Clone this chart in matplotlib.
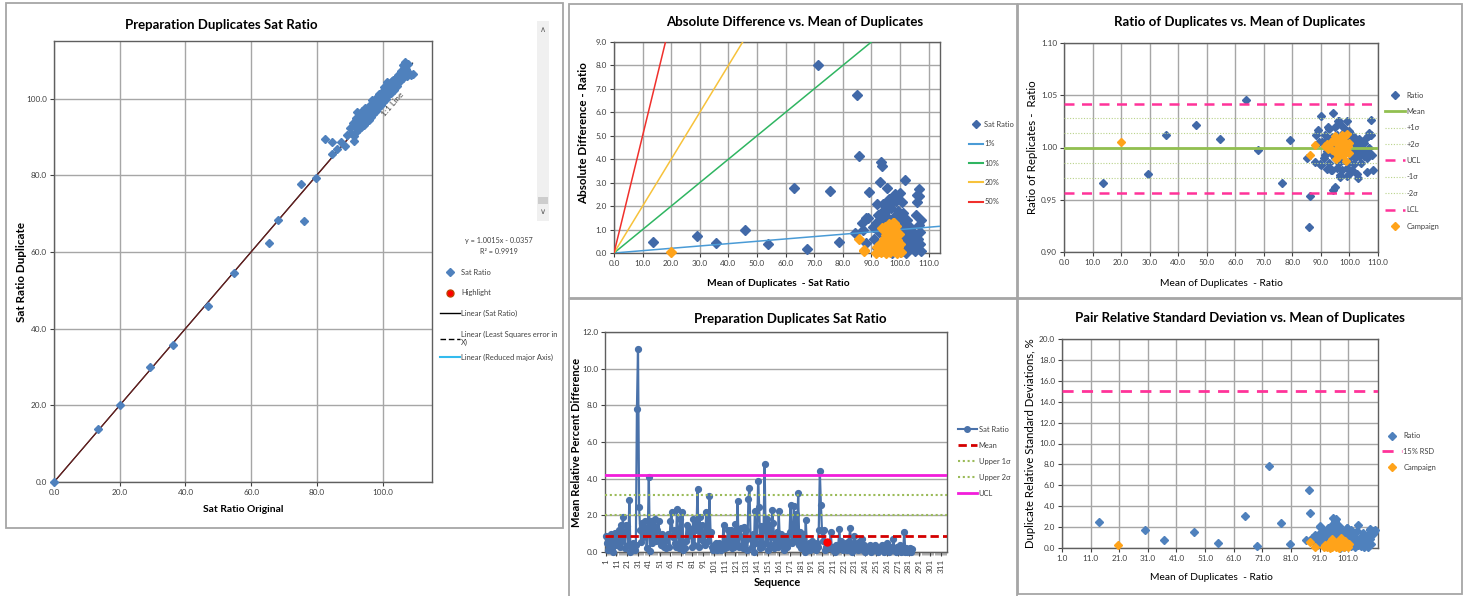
import numpy as np
import matplotlib
matplotlib.use("Agg")
import matplotlib.pyplot as plt
from matplotlib import font_manager
from matplotlib.lines import Line2D
from matplotlib.patches import Rectangle
from matplotlib.ticker import FormatStrFormatter

# ======================= DATA =======================
# Panel 1: original vs duplicate sat ratio
p1_pairs = [
    (0.0, 0.0), (13.5, 13.9), (20.1, 20.0), (29.1, 29.9), (36.2, 35.8), (46.8, 45.9),
    (54.8, 54.4), (65.3, 62.4), (68.2, 68.4), (75.0, 77.8), (76.1, 68.1), (79.7, 79.2),
    (82.5, 89.5), (84.5, 88.6), (84.7, 85.6), (86.0, 86.8), (87.2, 88.6), (88.5, 87.7),
    (89.0, 90.6), (91.2, 88.8),
    (90.0, 92.2), (90.5, 91.0), (91.0, 93.5), (91.2, 90.2), (91.5, 92.8), (91.8, 95.0),
    (92.0, 91.3), (92.3, 96.5), (92.5, 93.8), (92.8, 92.0), (93.0, 95.6), (93.2, 94.0),
    (93.5, 92.5), (93.7, 96.8), (94.0, 95.0), (94.2, 93.2), (94.5, 97.5), (94.7, 95.5),
    (95.0, 94.0), (95.2, 97.0), (95.5, 95.9), (95.7, 94.5), (96.0, 98.4), (96.2, 96.8),
    (96.5, 95.3), (96.7, 99.6), (97.0, 97.6), (97.2, 96.0), (97.5, 99.0), (97.7, 98.3),
    (98.0, 96.8), (98.2, 100.5), (98.5, 99.0), (98.7, 97.5), (99.0, 101.3), (99.2, 100.0),
    (99.5, 98.3), (99.7, 101.8), (100.0, 100.6), (100.2, 99.2), (100.5, 103.0), (100.7, 101.4),
    (101.0, 100.0), (101.2, 104.3), (101.5, 102.3), (101.7, 100.8), (102.0, 103.6), (102.2, 102.5),
    (102.5, 101.4), (102.7, 104.6), (103.0, 103.8), (103.3, 102.2), (103.6, 105.0), (104.0, 104.5),
    (104.3, 103.3), (104.6, 106.2), (105.0, 105.8), (105.3, 104.6), (105.6, 107.3), (106.0, 106.5),
    (106.3, 105.3), (106.6, 108.4), (107.0, 107.6), (107.3, 106.0), (107.7, 109.0), (108.0, 106.6),
    (108.5, 106.2), (109.1, 106.3), (106.7, 109.4), (106.2, 108.8),
    (93.0, 93.0), (94.5, 94.8), (96.0, 96.3), (97.5, 97.6), (99.0, 99.4), (100.5, 100.9),
    (95.0, 96.5), (98.0, 98.9), (101.0, 101.9), (103.0, 104.9), (92.0, 94.3), (96.5, 97.9),
]
fit_slope = 1.0015
fit_intercept = -0.0357
fit_r2 = 0.9919

# Panel 2: absolute difference vs mean of duplicates
p2_pairs = [
    (13.5, 0.47), (29.1, 0.74), (35.6, 0.43), (45.8, 1.00), (54.0, 0.39), (63.1, 2.78),
    (67.5, 0.16), (71.4, 8.03), (75.7, 2.64), (78.6, 0.49), (84.2, 0.86), (85.1, 6.76),
    (85.6, 4.15), (86.8, 1.26), (87.2, 1.00), (88.2, 1.50), (88.8, 1.50), (89.0, 2.62),
    (88.0, 0.43), (93.2, 3.90), (93.7, 3.72), (93.0, 3.01),
    (90.5, 1.1), (91.0, 0.6), (91.5, 1.3), (92.0, 0.2), (92.2, 1.6), (92.5, 0.9),
    (93.0, 1.2), (93.0, 0.4), (93.5, 1.7), (93.8, 0.1), (94.0, 2.1), (94.2, 0.8),
    (94.5, 1.4), (94.8, 0.3), (95.0, 1.8), (95.2, 1.0), (95.5, 0.5), (95.6, 2.76),
    (95.8, 1.5), (96.0, 2.3), (96.2, 0.2), (96.5, 1.2), (96.8, 0.7), (97.0, 1.9),
    (97.2, 0.0), (97.5, 1.4), (97.8, 2.26), (98.0, 0.9), (98.1, 2.5), (98.3, 0.3),
    (98.5, 1.6), (98.8, 1.1), (99.0, 0.6), (99.2, 1.8), (99.5, 0.2), (99.8, 1.3),
    (100.0, 0.8), (100.1, 2.57), (100.3, 1.5), (100.6, 2.19), (100.8, 0.4), (101.0, 1.0),
    (101.2, 1.7), (101.5, 0.1), (101.7, 3.11), (101.8, 0.7), (102.0, 1.2), (102.3, 0.4),
    (102.5, 1.4), (102.8, 0.9), (103.0, 0.2), (103.2, 0.6), (103.5, 1.1), (103.8, 0.3),
    (104.0, 0.7), (104.5, 0.5), (104.8, 0.2), (105.0, 0.8), (105.3, 0.1), (105.6, 1.6),
    (105.9, 2.47), (106.0, 2.19), (106.2, 0.6), (106.5, 2.72), (106.5, 1.2), (106.8, 2.44),
    (107.0, 0.4), (107.2, 1.4), (107.5, 0.1), (107.0, 0.9), (92.0, 2.1), (95.0, 2.15),
    (99.0, 2.4), (98.5, 2.2), (94.0, 0.5), (95.0, 0.2), (96.0, 0.9), (97.0, 0.4),
    (98.0, 0.1), (99.0, 1.0), (100.0, 0.3), (101.0, 0.6), (102.0, 0.0), (103.0, 1.0),
    (97.5, 0.7), (99.5, 0.5), (95.5, 1.1), (100.5, 1.2), (104.0, 1.0),
]
p2_campaign = [
    (20.1, 0.05), (85.7, 0.58), (87.5, 0.13), (87.3, 0.08), (93.8, 1.05), (97.6, 1.29),
    (97.7, 1.10), (91.5, 0.0), (92.0, 0.25), (92.5, 0.1), (93.0, 0.4), (93.5, 0.05),
    (94.0, 0.2), (94.3, 0.6), (94.5, 1.0), (94.8, 1.1), (95.0, 0.3), (95.2, 0.0),
    (95.5, 0.5), (95.8, 0.15), (96.0, 0.8), (96.3, 0.35), (96.5, 0.05), (96.8, 0.6),
    (97.0, 0.2), (97.2, 0.9), (97.5, 0.45), (97.8, 0.1), (98.0, 1.3), (98.2, 0.7),
    (98.4, 0.3), (98.6, 1.15), (98.8, 0.0), (99.0, 0.55), (99.2, 0.25), (99.5, 0.8),
    (99.7, 0.1), (100.0, 0.4), (100.2, 0.05), (95.0, 0.75), (96.0, 1.25),
]
pct_levels = [1, 10, 20, 50]
pct_labels = ["1%", "10%", "20%", "50%"]

# Panel 3: ratio of duplicates vs mean of duplicates
p3_pairs = [
    (13.5, 0.966), (29.4, 0.975), (35.9, 1.012), (46.3, 1.022), (54.6, 1.008), (63.7, 1.045),
    (68.1, 0.998), (76.4, 0.966), (79.3, 1.007), (85.2, 0.990), (86.2, 0.954), (86.0, 0.924),
    (88.0, 0.986), (88.2, 1.012), (89.0, 1.017), (89.3, 1.005), (90.0, 1.030), (89.7, 0.984),
    (90.0, 0.983), (90.5, 1.005), (91.0, 0.990), (91.5, 1.012), (92.0, 0.997), (92.0, 0.979),
    (92.5, 1.008), (93.0, 0.985), (93.0, 1.018), (93.5, 0.995), (94.0, 1.010), (94.0, 0.978),
    (94.3, 1.033), (94.3, 0.959), (94.9, 0.962), (94.5, 1.002), (95.0, 0.990), (95.0, 1.020),
    (95.5, 0.980), (95.5, 1.012), (96.0, 0.997), (96.0, 1.025), (96.4, 1.025), (96.5, 0.985),
    (96.6, 0.972), (96.7, 0.974), (97.0, 1.008), (97.2, 1.022), (97.5, 0.993), (97.5, 0.978),
    (98.0, 1.015), (98.0, 0.988), (98.5, 1.003), (98.5, 1.018), (99.0, 0.980), (99.0, 0.996),
    (99.2, 0.973), (99.2, 1.025), (99.5, 1.010), (100.0, 0.986), (100.0, 1.016), (100.5, 0.993),
    (100.5, 1.005), (101.0, 0.978), (101.0, 1.010), (101.5, 0.997), (101.5, 0.984), (102.0, 1.009),
    (102.0, 0.990), (102.5, 0.996), (102.5, 0.975), (103.0, 0.971), (103.0, 1.002), (103.5, 0.992),
    (103.5, 1.008), (104.0, 0.995), (104.0, 0.985), (104.5, 1.000), (104.8, 0.999), (105.0, 0.992),
    (105.0, 1.004), (105.5, 0.996), (106.0, 0.990), (106.2, 0.977), (106.5, 1.011), (106.9, 1.014),
    (107.0, 0.995), (107.2, 1.012), (107.4, 1.012), (107.7, 1.026), (107.8, 0.993), (108.3, 0.978),
    (107.0, 1.000), (101.0, 1.012), (97.5, 1.004), (93.5, 0.978), (92.5, 1.020), (91.5, 0.993),
    (100.0, 0.975), (102.0, 1.003), (105.5, 1.008),
]
p3_campaign = [
    (20.1, 1.005), (86.2, 0.993), (88.0, 1.002), (91.5, 1.001), (92.0, 1.003), (92.5, 0.999),
    (93.0, 1.002), (93.5, 1.005), (94.0, 0.998), (94.5, 1.008), (94.8, 1.011), (95.0, 0.996),
    (95.2, 0.989), (95.5, 1.003), (96.0, 1.000), (96.2, 1.007), (96.5, 0.994), (96.8, 1.002),
    (97.0, 1.009), (97.2, 0.997), (97.5, 1.004), (97.8, 0.993), (98.0, 1.006), (98.2, 0.999),
    (98.5, 1.011), (98.7, 0.987), (98.8, 1.003), (99.0, 0.996), (99.2, 1.013), (99.5, 1.001),
    (99.8, 0.995), (100.0, 1.004), (96.0, 0.991), (97.5, 1.012),
]
ratio_mean = 0.9995
ratio_sigma = 0.0142

# Panel 4: mean relative percent difference by sequence
p4_rpd = [
    0.85, 0.5, 0.1, 0.3, 0.7, 1.0, 0.2, 0.0, 0.6, 1.05,
    0.4, 0.8, 1.2, 0.3, 1.45, 0.6, 1.9, 1.0, 0.2, 1.5,
    1.4, 0.4, 2.85, 0.0, 0.2, 0.5, 0.3, 0.1, 0.4, 7.8,
    11.1, 2.45, 1.2, 0.55, 1.6, 0.8, 1.7, 1.3, 0.2, 1.0,
    4.1, 0.05, 1.7, 0.5, 1.5, 0.9, 1.8, 0.6, 1.2, 1.7,
    0.8, 0.4, 1.0, 0.7, 0.3, 0.6, 0.2, 0.9, 1.0, 0.3,
    1.7, 2.2, 0.8, 1.2, 0.5, 0.3, 2.35, 1.0, 0.2, 1.8,
    0.4, 2.2, 0.1, 0.2, 0.6, 1.5, 0.9, 1.3, 1.0, 1.2,
    0.3, 1.8, 0.4, 1.6, 1.2, 3.45, 0.3, 1.9, 0.7, 1.5,
    0.6, 1.1, 0.4, 2.2, 1.3, 0.6, 3.05, 1.1, 0.3, 0.1,
    0.4, 0.2, 0.5, 0.1, 0.3, 0.5, 0.2, 0.1, 0.4, 1.5,
    0.2, 0.6, 0.3, 1.2, 0.8, 0.4, 1.2, 0.2, 0.9, 0.3,
    1.55, 0.6, 2.8, 0.3, 0.9, 1.3, 0.4, 0.2, 1.35, 0.6,
    1.2, 0.1, 2.9, 3.5, 0.7, 0.3, 1.0, 0.0, 2.25, 0.5,
    0.8, 3.9, 2.45, 0.2, 1.4, 0.3, 1.2, 4.8, 0.5, 1.8,
    0.1, 1.5, 0.9, 0.4, 2.3, 1.6, 0.2, 0.7, 1.1, 0.3,
    2.25, 0.6, 1.0, 0.4, 0.8, 0.1, 0.5, 0.9, 0.3, 0.6,
    1.1, 2.55, 0.5, 0.9, 2.5, 0.6, 2.1, 0.8, 3.2, 0.4,
    1.1, 0.2, 1.0, 0.5, 0.0, 1.75, 0.3, 0.2, 0.5, 0.1,
    0.3, 0.6, 0.2, 0.4, 0.1, 0.5, 0.3, 1.2, 4.4, 2.55,
    1.15, 0.6, 1.2, 0.1, 0.3, 0.55, 0.4, 0.2, 1.1, 0.3,
    0.1, 0.2, 0.0, 0.4, 0.1, 0.3, 1.25, 0.2, 0.6, 0.1,
    0.4, 0.3, 0.5, 0.1, 0.2, 0.6, 1.3, 0.3, 0.0, 0.4,
    0.85, 0.2, 0.5, 0.1, 0.3, 0.6, 0.2, 0.7, 0.1, 0.4,
    0.0, 0.3, 0.1, 0.2, 0.4, 0.0, 0.3, 0.1, 0.2, 0.4,
    0.1, 0.3, 0.0, 0.2, 0.1, 0.4, 0.2, 0.0, 0.3, 0.1,
    0.5, 0.2, 0.0, 0.3, 0.1, 0.2, 0.7, 0.1, 0.0, 0.3,
    0.2, 0.1, 0.4, 0.0, 0.2, 0.1, 1.1, 0.0, 0.2, 0.0,
    0.1, 0.2, 0.0, 0.15,
]
p4_highlight_seq = [206]
p4_highlight_val = [0.55]
rpd_mean = 0.85
rpd_upper1 = 2.0
rpd_upper2 = 3.1
rpd_ucl = 4.22
n_sequence = 316

# Panel 5: pair RSD vs mean of duplicates
p5_pairs = [
    (13.9, 2.49), (30.0, 1.76), (36.7, 0.80), (47.0, 1.53), (55.4, 0.51), (64.8, 3.10),
    (69.3, 0.16), (73.3, 7.86), (77.6, 2.43), (80.6, 0.42), (86.4, 0.73), (87.2, 5.56),
    (87.7, 3.39), (89.7, 1.05), (90.7, 1.28), (91.2, 2.11), (90.3, 0.42), (95.8, 2.90),
    (96.6, 2.75), (95.2, 2.24), (104.3, 2.17), (97.9, 2.08), (100.7, 1.95), (108.6, 1.69),
    (109.7, 1.66),
    (88.5, 1.0), (89.0, 0.6), (89.5, 1.2), (90.0, 0.3), (90.5, 0.9), (91.0, 1.4),
    (91.5, 0.5), (92.0, 1.1), (92.5, 0.2), (92.5, 1.6), (93.0, 0.8), (93.5, 1.3),
    (94.0, 0.4), (94.0, 1.95), (94.5, 1.0), (95.0, 1.5), (95.0, 0.1), (95.5, 0.7),
    (96.0, 1.2), (96.5, 0.3), (96.5, 1.8), (97.0, 0.9), (97.5, 1.4), (97.5, 0.2),
    (98.0, 1.1), (98.5, 0.5), (98.5, 1.6), (99.0, 0.8), (99.5, 1.3), (99.5, 0.1),
    (100.0, 1.0), (100.4, 1.95), (100.5, 0.4), (101.0, 1.5), (101.0, 0.7), (101.5, 1.1),
    (102.0, 0.2), (102.0, 1.7), (102.5, 0.9), (103.0, 0.5), (103.0, 1.3), (103.5, 0.1),
    (103.9, 1.63), (104.0, 0.8), (104.5, 0.3), (105.0, 0.6), (105.0, 1.0), (105.5, 0.2),
    (106.0, 0.4), (106.5, 0.1), (106.5, 0.8), (107.0, 0.3), (107.5, 0.6), (108.0, 0.1),
    (108.0, 1.2), (108.5, 0.9), (108.6, 1.82), (109.0, 0.4), (109.5, 1.3), (109.7, 1.63),
    (110.0, 1.5), (110.5, 1.7), (91.1, 2.04), (96.5, 2.6), (94.0, 1.5), (98.0, 0.0),
    (100.0, 0.2), (106.0, 1.4),
]
p5_campaign = [
    (20.6, 0.26), (87.6, 0.54), (89.4, 0.13), (92.5, 0.1), (93.0, 0.3), (93.5, 0.05),
    (94.0, 0.4), (94.5, 0.2), (95.0, 0.7), (95.2, 0.85), (95.5, 0.1), (96.0, 0.5),
    (96.3, 0.25), (96.8, 0.05), (97.0, 0.6), (97.3, 0.3), (97.6, 0.15), (98.0, 0.45),
    (98.3, 0.8), (98.6, 0.95), (98.8, 0.2), (99.0, 0.6), (99.3, 0.35), (99.6, 0.05),
    (100.0, 0.7), (100.3, 0.25), (100.8, 0.1), (101.2, 0.4), (94.8, 0.0), (97.8, 0.0),
]
rsd_limit = 15.0

# ======================= STYLE =======================
names = {f.name for f in font_manager.fontManager.ttflist}
NARROW = "Liberation Sans Narrow" in names
BASE = "Liberation Sans Narrow" if NARROW else "Lato"
plt.rcParams["font.family"] = [BASE, "DejaVu Sans"]
K = 1.15 if NARROW else 1.0

W, H = 1465, 596
BLUE1 = "#4f81bd"
BLUE2 = "#4169a8"
ORANGE = "#ffa31a"
GRID = "#a6a6a6"
SPINE = "#5f5f5f"
TICKC = "#404040"
PINK = "#ff3399"
TITLE_FS = 9.5
TICK_FS = 5.9
LEG_FS = 5.4

fig = plt.figure(figsize=(W / 100, H / 100), dpi=100)
fig.patch.set_facecolor("white")


def fx(px):
    return px / W


def fy(py):
    return 1 - py / H


def add_axes(l, r, t, b):
    return fig.add_axes([l / W, 1 - b / H, (r - l) / W, (b - t) / H])


def txt(px, py, s, size, bold=False, rot=0, ha="center", va="center", color="black"):
    fig.text(fx(px), fy(py), s, fontsize=size * K, fontweight="bold" if bold else "normal",
             rotation=rot, ha=ha, va=va, color=color)


def style(ax, gx=True, gy=True):
    for s in ax.spines.values():
        s.set_color(SPINE)
        s.set_linewidth(1.0)
    ax.tick_params(labelsize=TICK_FS * K, colors=TICKC, length=3, width=0.8, direction="out", pad=2)
    ax.set_axisbelow(True)
    if gx:
        ax.xaxis.grid(True, color=GRID, lw=1.0)
    if gy:
        ax.yaxis.grid(True, color=GRID, lw=1.0)


def frame(l, t, r, b):
    fig.patches.append(Rectangle((fx(l), fy(b)), (r - l) / W, (b - t) / H, transform=fig.transFigure,
                                 fill=False, edgecolor="#a6a6a6", lw=1.3, zorder=0))


frame(6, 3, 563, 528)
frame(569, 4, 1017, 298)
frame(1018, 4, 1462, 298)
frame(569, 299, 1017, 598)
frame(1018, 299, 1462, 594)


def legend(ax, handles, labels, px, py, spacing, hlen, loc="center left"):
    lg = ax.legend(handles, labels, loc=loc, bbox_to_anchor=(fx(px), fy(py)),
                   bbox_transform=fig.transFigure, frameon=False, fontsize=LEG_FS * K,
                   labelspacing=spacing, handlelength=hlen, handletextpad=0.25,
                   borderpad=0, borderaxespad=0, labelcolor="#404040")
    return lg


# ======================= PANEL 1 =======================
ax1 = add_axes(54, 432, 41, 482)
style(ax1)
o1 = [p[0] for p in p1_pairs]
d1 = [p[1] for p in p1_pairs]
xr = np.array([0.0, max(o1)])
ax1.plot(xr, fit_slope * xr + fit_intercept, color="black", lw=0.8, zorder=2)
ax1.plot([0, 108], [0, 108], color="#6b2222", lw=0.9, zorder=2)
ax1.plot(o1, d1, ls="none", marker="D", ms=4.3, color=BLUE1, mec=BLUE1, zorder=3, clip_on=False)
ax1.text(103, 98.5, "1:1 Line", rotation=49, fontsize=6 * K, color="#404040",
         ha="center", va="center", zorder=4)
ax1.set_xlim(0, 115)
ax1.set_ylim(0, 115)
ax1.set_xticks([0, 20, 40, 60, 80, 100])
ax1.set_yticks([0, 20, 40, 60, 80, 100])
ax1.xaxis.set_major_formatter(FormatStrFormatter("%.1f"))
ax1.yaxis.set_major_formatter(FormatStrFormatter("%.1f"))

txt(221, 25, "Preparation Duplicates Sat Ratio", TITLE_FS, bold=True)
txt(243, 510, "Sat Ratio Original", 7.4, bold=True)
txt(22, 272, "Sat Ratio Duplicate", 8.4, bold=True, rot=90)
txt(499, 241, f"y = {fit_slope:.4f}x - {abs(fit_intercept):.4f}", 5.2, color="#404040")
txt(499, 252, f"R\u00b2 = {fit_r2:.4f}", 5.2, color="#404040")

h1 = [Line2D([], [], ls="none", marker="D", ms=4, color=BLUE1),
      Line2D([], [], ls="none", marker="o", ms=5, mfc="#ff0000", mec="#c04000"),
      Line2D([], [], color="black", lw=1),
      Line2D([], [], color="black", lw=1, dashes=(4, 2))]
l1 = ["Sat Ratio", "Highlight", "Linear (Sat Ratio)", "Linear (Least Squares error in\nX)"]
lg1 = legend(ax1, h1, l1, 440, 269, 1.8, 2.6, loc="upper left")
ax1.add_artist(lg1)
legend(ax1, [Line2D([], [], color="#33bbee", lw=1.5)], ["Linear (Reduced major Axis)"],
       440, 357, 1.0, 2.6, loc="center left")

# scrollbar decoration
fig.patches.append(Rectangle((fx(537), fy(221)), 12 / W, 200 / H, transform=fig.transFigure,
                             facecolor="#f0f0f0", edgecolor="none", zorder=0))
fig.patches.append(Rectangle((fx(538), fy(204)), 10 / W, 7 / H, transform=fig.transFigure,
                             facecolor="#cdcdcd", edgecolor="none", zorder=1))
fig.text(fx(543), fy(30), "\u2227", fontsize=6, color="#606060", ha="center", va="center",
         family="DejaVu Sans")
fig.text(fx(543), fy(212), "\u2228", fontsize=6, color="#606060", ha="center", va="center",
         family="DejaVu Sans")

# ======================= PANEL 2 =======================
ax2 = add_axes(614, 940, 42, 253)
style(ax2)
m2 = [p[0] for p in p2_pairs]
a2 = [p[1] for p in p2_pairs]
ax2.plot(m2, a2, ls="none", marker="D", ms=5.0, color=BLUE2, zorder=3, clip_on=False)
pct_colors = ["#4a9bd6", "#2fb561", "#f7c23b", "#f0302c"]
for lvl, c in zip(pct_levels, pct_colors):
    ax2.axline((0, 0), slope=lvl / 100.0, color=c, lw=1.1, zorder=4)
mc2 = [p[0] for p in p2_campaign]
ac2 = [p[1] for p in p2_campaign]
ax2.plot(mc2, ac2, ls="none", marker="D", ms=5.0, color=ORANGE, zorder=5, clip_on=False)
ax2.set_xlim(0, 114)
ax2.set_ylim(0, 9)
ax2.set_xticks(np.arange(0, 111, 10))
ax2.set_yticks(np.arange(0, 10, 1))
ax2.xaxis.set_major_formatter(FormatStrFormatter("%.1f"))
ax2.yaxis.set_major_formatter(FormatStrFormatter("%.1f"))
txt(795, 22, "Absolute Difference vs. Mean of Duplicates", TITLE_FS, bold=True)
txt(778, 283, "Mean of Duplicates  - Sat Ratio", 7.4, bold=True)
txt(584, 133, "Absolute Difference - Ratio", 8.4, bold=True, rot=90)
h2 = [Line2D([], [], ls="none", marker="D", ms=4.5, color=BLUE2)] + \
     [Line2D([], [], color=c, lw=1.5) for c in pct_colors]
legend(ax2, h2, ["Sat Ratio"] + pct_labels, 969, 163, 1.65, 1.8)

# ======================= PANEL 3 =======================
ax3 = add_axes(1064, 1378, 43, 252)
style(ax3)
m3 = [p[0] for p in p3_pairs]
r3 = [p[1] for p in p3_pairs]
ax3.plot(m3, r3, ls="none", marker="D", ms=4.5, color=BLUE2, zorder=3, clip_on=False)
ax3.axhline(ratio_mean, color="#92c050", lw=2, zorder=4)
sig_kw = dict(color="#b9d38a", lw=0.8, ls=(0, (1, 1.5)))
for k in (1, 2, -1, -2):
    ax3.axhline(ratio_mean + k * ratio_sigma, zorder=4, **sig_kw)
ax3.axhline(ratio_mean + 3 * ratio_sigma, color=PINK, lw=1.8, dashes=(4, 3), zorder=4)
ax3.axhline(ratio_mean - 3 * ratio_sigma, color=PINK, lw=1.8, dashes=(4, 3), zorder=4)
mc3 = [p[0] for p in p3_campaign]
rc3 = [p[1] for p in p3_campaign]
ax3.plot(mc3, rc3, ls="none", marker="D", ms=4.5, color=ORANGE, zorder=5, clip_on=False)
ax3.set_xlim(0, 110)
ax3.set_ylim(0.90, 1.10)
ax3.set_xticks(np.arange(0, 111, 10))
ax3.set_yticks([0.90, 0.95, 1.00, 1.05, 1.10])
ax3.xaxis.set_major_formatter(FormatStrFormatter("%.1f"))
ax3.yaxis.set_major_formatter(FormatStrFormatter("%.2f"))
txt(1240, 22, "Ratio of Duplicates vs. Mean of Duplicates", TITLE_FS, bold=True)
txt(1221, 284, "Mean of Duplicates  - Ratio", 7.4)
txt(1033, 147, "Ratio of Replicates -  Ratio", 8.3, rot=90)
h3 = [Line2D([], [], ls="none", marker="D", ms=4.5, color=BLUE2),
      Line2D([], [], color="#92c050", lw=2),
      Line2D([], [], **sig_kw),
      Line2D([], [], **sig_kw),
      Line2D([], [], color=PINK, lw=1.8, dashes=(4, 3)),
      Line2D([], [], **sig_kw),
      Line2D([], [], **sig_kw),
      Line2D([], [], color=PINK, lw=1.8, dashes=(4, 3)),
      Line2D([], [], ls="none", marker="D", ms=4.5, color=ORANGE)]
l3 = ["Ratio", "Mean", "+1\u03c3", "+2\u03c3", "UCL", "-1\u03c3", "-2\u03c3", "LCL", "Campaign"]
legend(ax3, h3, l3, 1385, 160.5, 1.25, 2.6)

# ======================= PANEL 4 =======================
ax4 = add_axes(605, 947, 332, 552)
style(ax4, gx=False, gy=True)
seq = np.arange(1, len(p4_rpd) + 1)
ax4.plot(seq, p4_rpd, color="#4a72aa", lw=1.6, marker="o", ms=4.2, zorder=3, clip_on=False)
ax4.axhline(rpd_mean, color="#d40000", lw=2, dashes=(3, 1.5), zorder=4)
ax4.axhline(rpd_upper1, color="#9bbb59", lw=1.5, ls=(0, (1, 1.3)), zorder=4)
ax4.axhline(rpd_upper2, color="#9bbb59", lw=1.5, ls=(0, (1, 1.3)), zorder=4)
ax4.axhline(rpd_ucl, color="#f21ddb", lw=2, zorder=4)
ax4.plot(p4_highlight_seq, p4_highlight_val, ls="none", marker="o", ms=5, color="#ff0000", zorder=5)
ax4.set_xlim(0.5, n_sequence + 0.5)
ax4.set_ylim(0, 12)
ax4.set_xticks(np.arange(1, n_sequence + 1, 10))
ax4.set_xticks(np.arange(1, n_sequence + 1), minor=True)
ax4.tick_params(axis="x", which="minor", length=2, width=0.5, colors="#8c8c8c")
ax4.tick_params(axis="x", which="major", rotation=90, labelsize=TICK_FS * K)
ax4.set_yticks(np.arange(0, 13, 2))
ax4.yaxis.set_major_formatter(FormatStrFormatter("%.1f"))
txt(790, 319, "Preparation Duplicates Sat Ratio", TITLE_FS, bold=True)
txt(777, 582, "Sequence", 7.8, bold=True)
txt(577, 442, "Mean Relative Percent Difference", 8.0, bold=True, rot=90)
h4 = [Line2D([], [], color="#4a72aa", lw=1.5, marker="o", ms=4),
      Line2D([], [], color="#d40000", lw=2, dashes=(3, 1.5)),
      Line2D([], [], color="#9bbb59", lw=1.5, ls=(0, (1, 1.3))),
      Line2D([], [], color="#9bbb59", lw=1.5, ls=(0, (1, 1.3))),
      Line2D([], [], color="#f21ddb", lw=2)]
legend(ax4, h4, ["Sat Ratio", "Mean", "Upper 1\u03c3", "Upper 2\u03c3", "UCL"], 958, 461.5, 1.2, 2.5)

# ======================= PANEL 5 =======================
ax5 = add_axes(1062, 1378, 339, 548)
style(ax5)
m5 = [p[0] for p in p5_pairs]
s5 = [p[1] for p in p5_pairs]
ax5.plot(m5, s5, ls="none", marker="D", ms=4.5, color=BLUE1, zorder=3, clip_on=False)
ax5.axhline(rsd_limit, color=PINK, lw=2, dashes=(4, 3), zorder=4)
mc5 = [p[0] for p in p5_campaign]
sc5 = [p[1] for p in p5_campaign]
ax5.plot(mc5, sc5, ls="none", marker="D", ms=4.5, color=ORANGE, zorder=5, clip_on=False)
ax5.set_xlim(1, 111.4)
ax5.set_ylim(0, 20)
ax5.set_xticks(np.arange(1, 102, 10))
ax5.set_yticks(np.arange(0, 21, 2))
ax5.xaxis.set_major_formatter(FormatStrFormatter("%.1f"))
ax5.yaxis.set_major_formatter(FormatStrFormatter("%.1f"))
txt(1240, 318, "Pair Relative Standard Deviation vs. Mean of Duplicates", TITLE_FS, bold=True)
txt(1211, 577, "Mean of Duplicates  - Ratio", 7.4)
txt(1030, 443, "Duplicate Relative Standard Deviations, %", 8.2, rot=90)
h5 = [Line2D([], [], ls="none", marker="D", ms=4.5, color=BLUE1),
      Line2D([], [], color=PINK, lw=2, dashes=(4, 3)),
      Line2D([], [], ls="none", marker="D", ms=4.5, color=ORANGE)]
legend(ax5, h5, ["Ratio", "15% RSD", "Campaign"], 1382, 451.5, 1.15, 2.6)

fig.savefig("out.png", dpi=100, facecolor="white")
